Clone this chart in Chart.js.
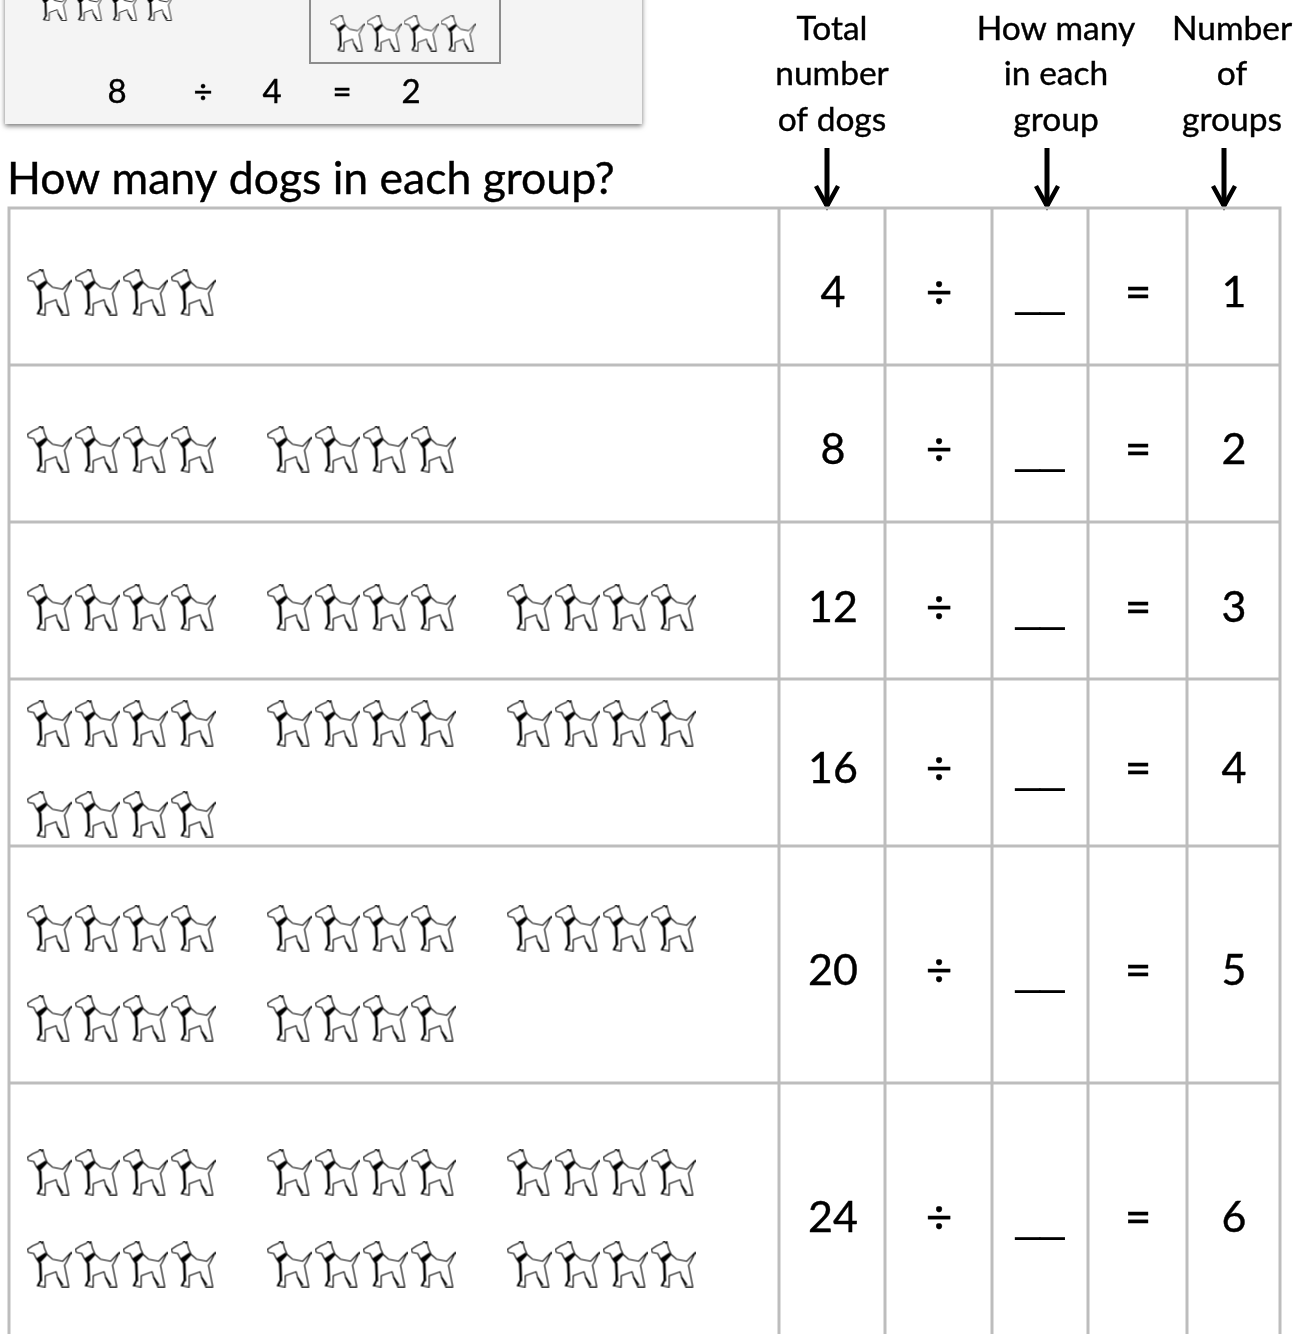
<!DOCTYPE html>
<html><head><meta charset="utf-8">
<style>html,body{margin:0;padding:0;background:#fff}#w{width:1298px;height:1334px}canvas{display:block}</style>
<script src="https://cdn.jsdelivr.net/npm/chart.js@4"></script>
</head><body><div id="w"><canvas id="c" width="1298" height="1334"></canvas></div>
<script>
// ---- values
const totals = [4, 8, 12, 16, 20, 24];
const groupCounts = [1, 2, 3, 4, 5, 6];
const groupsOnLine = [[1], [2], [3], [3, 1], [3, 2], [3, 3]];
const dogsInGroup = 4;
const exampleEquation = ['8', '÷', '4', '=', '2'];
const questionTitle = 'How many dogs in each group?';
const headerTotal = ['Total', 'number', 'of dogs'];
const headerEach = ['How many', 'in each', 'group'];
const headerGroups = ['Number', 'of', 'groups'];
// ---- page positions (axes run in page units)
const columnEdges = [9, 779, 885, 992, 1088, 1187, 1280];
const rowEdges = [208, 365, 522, 679, 846, 1083];
const tableBottom = 1334;
const rowTextY = [293, 450, 608, 769, 971, 1218];
const dogLineY = [[292], [449], [607], [723, 814], [928, 1018], [1172, 1264]];
const groupStartX = [49, 289, 529];
const dogStepX = 48;
const arrowX = [827, 1047, 1224];
const smallDogY = 33, smallDogStartX = 347, smallDogStepX = 37;
const cornerDogY = 4, cornerDogStartX = 52, cornerDogStepX = 35;

function makeDog(w) {
  const h = w * 47 / 45, c = document.createElement('canvas');
  c.width = Math.round(w); c.height = Math.round(h);
  const g = c.getContext('2d'); g.scale(c.width / 45, c.height / 47);
  g.lineJoin = 'round'; g.lineCap = 'round'; g.strokeStyle = '#000'; g.lineWidth = 1.1; g.fillStyle = '#fff';
  g.beginPath();
  g.moveTo(0.7, 9); g.lineTo(6.3, 5.3); g.lineTo(12, 2.7); g.lineTo(13.7, 0.3); g.lineTo(15.3, 3); g.lineTo(16.3, 0.7);
  g.lineTo(18, 8); g.lineTo(20.7, 14); g.lineTo(26, 18.7); g.lineTo(36.3, 20.7); g.lineTo(44.7, 12); g.lineTo(39.7, 22); g.lineTo(38, 24.7);
  g.lineTo(42.3, 46.3); g.lineTo(35.3, 46.3); g.lineTo(31.3, 37.3); g.lineTo(29.7, 31.3); g.lineTo(18.7, 35.3);
  g.lineTo(18.7, 46.3); g.lineTo(10.7, 45.3); g.lineTo(13.7, 39.7); g.lineTo(13, 23); g.lineTo(9.7, 18); g.lineTo(7.3, 13); g.lineTo(2, 12);
  g.closePath(); g.fill(); g.stroke();
  g.fillStyle = '#000';
  g.beginPath(); g.moveTo(9.7, 18); g.lineTo(19, 12); g.lineTo(20.7, 14.7); g.lineTo(13, 23); g.closePath(); g.fill();
  g.lineWidth = 2.2;
  g.beginPath(); g.moveTo(14, 23); g.lineTo(14.6, 40); g.stroke();
  g.lineWidth = 1.6;
  g.beginPath(); g.moveTo(31.3, 37.3); g.lineTo(36, 44); g.moveTo(13.7, 41); g.lineTo(12, 45); g.stroke();
  return c;
}
const bigDog = makeDog(45), smallDog = makeDog(35), cornerDog = makeDog(33);

const grey = '#bdbdbd';
function segs(list) { const o = []; list.forEach(s => { o.push(...s, { x: NaN, y: NaN }); }); return o; }
const tableLines = segs([
  ...columnEdges.map(x => [{ x, y: rowEdges[0] - 1.5 }, { x, y: tableBottom }]),
  ...rowEdges.map(y => [{ x: columnEdges[0], y }, { x: columnEdges[6], y }])
]);
const arrowShafts = segs(arrowX.map(x => [{ x, y: 148 }, { x, y: 206 }]));
const arrowHeads = segs(arrowX.map(x => [{ x: x - 11, y: 186 }, { x, y: 206 }, { x: x + 11, y: 186 }]));
const bigDogs = [];
groupsOnLine.forEach((lines, r) => lines.forEach((n, l) => {
  for (let g = 0; g < n; g++) for (let d = 0; d < dogsInGroup; d++)
    bigDogs.push({ x: groupStartX[g] + d * dogStepX, y: dogLineY[r][l] });
}));
const boxDogs = [0, 1, 2, 3].map(d => ({ x: smallDogStartX + d * smallDogStepX, y: smallDogY }));
const topDogs = [0, 1, 2, 3].map(d => ({ x: cornerDogStartX + d * cornerDogStepX, y: cornerDogY }));
const boxLines = segs([[{ x: 310, y: 0 }, { x: 310, y: 63 }, { x: 500, y: 63 }, { x: 500, y: 0 }]]);

const FONT = 'Lato, Carlito, sans-serif';
const sheet = {
  id: 'sheet',
  beforeDatasetsDraw(ch) {
    const { ctx: x, scales: { x: X, y: Y } } = ch;
    x.save();
    x.shadowColor = 'rgba(0,0,0,.55)'; x.shadowBlur = 5; x.shadowOffsetY = 2;
    x.fillStyle = '#f4f4f4';
    x.fillRect(X.getPixelForValue(5), Y.getPixelForValue(-10), X.getPixelForValue(642) - X.getPixelForValue(5), Y.getPixelForValue(124) - Y.getPixelForValue(-10));
    x.restore();
  },
  afterDatasetsDraw(ch) {
    const { ctx: x, scales: { x: X, y: Y } } = ch;
    const put = (t, px, py, size, align) => {
      x.font = size + 'px ' + FONT; x.textAlign = align || 'center'; x.textBaseline = 'middle'; x.fillStyle = '#000';
      x.strokeStyle = '#000'; x.lineWidth = 0.4;
      x.strokeText(t, X.getPixelForValue(px), Y.getPixelForValue(py));
      x.fillText(t, X.getPixelForValue(px), Y.getPixelForValue(py));
    };
    x.save();
    const eqX = [117, 203, 272, 342, 411];
    exampleEquation.forEach((t, i) => put(t, eqX[i], 92, 33));
    put(questionTitle, 7, 180, 44.5, 'left');
    const lineY = [29, 74, 120];
    headerTotal.forEach((t, i) => put(t, 832, lineY[i], 33.5));
    headerEach.forEach((t, i) => put(t, 1056, lineY[i], 33.5));
    headerGroups.forEach((t, i) => put(t, 1232, lineY[i], 33.5));
    totals.forEach((v, i) => {
      const y = rowTextY[i];
      put(String(v), 833, y, 43);
      put('÷', 939, y, 46);
      put('=', 1138, y, 46);
      put(String(groupCounts[i]), 1234, y, 43);
      x.font = '44px "Liberation Sans"'; x.textAlign = 'center'; x.textBaseline = 'alphabetic';
      x.fillText('__', X.getPixelForValue(1040), Y.getPixelForValue(y + 13));
    });
    x.restore();
  }
};

new Chart(document.getElementById('c'), {
  type: 'scatter',
  data: {
    datasets: [
      { label: 'box', data: boxLines, showLine: true, borderColor: '#8c8c8c', borderWidth: 2, pointRadius: 0, spanGaps: false },
      { label: 'table', data: tableLines, showLine: true, borderColor: grey, borderWidth: 3, pointRadius: 0, spanGaps: false },
      { label: 'arrow shafts', data: arrowShafts, showLine: true, borderColor: '#000', borderWidth: 5, pointRadius: 0, spanGaps: false },
      { label: 'arrow heads', data: arrowHeads, showLine: true, borderColor: '#000', borderWidth: 4.5, pointRadius: 0, spanGaps: false },
      { label: 'dogs', data: bigDogs, pointStyle: bigDog, pointRadius: 24 },
      { label: 'box dogs', data: boxDogs, pointStyle: smallDog, pointRadius: 18 },
      { label: 'top dogs', data: topDogs, pointStyle: cornerDog, pointRadius: 18 }
    ]
  },
  options: {
    responsive: false, animation: false, events: [],
    layout: { padding: 0, autoPadding: false },
    plugins: { legend: { display: false }, tooltip: { enabled: false } },
    scales: {
      x: { type: 'linear', min: 0, max: 1298, display: false },
      y: { type: 'linear', min: 0, max: 1334, reverse: true, display: false }
    }
  },
  plugins: [sheet]
});
</script></body></html>
